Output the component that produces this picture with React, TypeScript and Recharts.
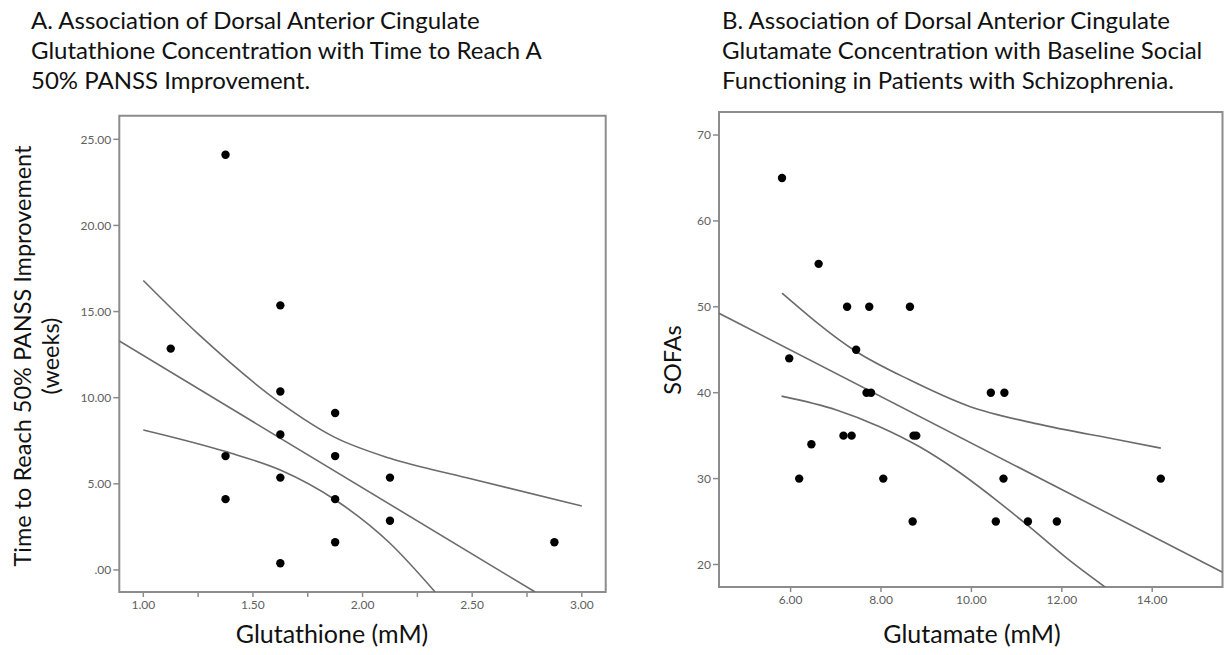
import React from "react";
import {
  ComposedChart,
  Scatter,
  Line,
  XAxis,
  YAxis,
  ReferenceArea,
} from "recharts";

// Panel A: glutathione (mM) vs weeks to 50% PANSS improvement
const glutathione = [1.375, 1.125, 1.625, 1.625, 1.875, 1.625, 1.375, 1.875, 1.625, 2.125, 1.375, 1.875, 2.125, 1.875, 2.875, 1.625];
const weeksToImprove = [24.1, 12.85, 15.36, 10.36, 9.11, 7.86, 6.61, 6.61, 5.36, 5.36, 4.11, 4.11, 2.86, 1.61, 1.61, 0.39];

const fitAX = [0.8905, 2.787];
const fitAY = [13.29, -1.28];
const upperAX = [1.0, 1.25, 1.625, 1.867, 2.125, 2.475, 3.0];
const upperAY = [16.8, 13.7, 9.7, 7.74, 6.48, 5.35, 3.71];
const lowerAX = [1.0, 1.376, 1.625, 1.876, 2.125, 2.331];
const lowerAY = [8.13, 6.87, 5.8, 4.06, 1.55, -1.28];

// Panel B: glutamate (mM) vs SOFAS
const glutamate = [5.81, 6.62, 7.25, 7.74, 8.64, 7.45, 5.97, 7.68, 7.78, 10.43, 10.73, 7.17, 7.35, 8.72, 8.78, 6.46, 6.19, 8.05, 10.71, 14.19, 8.7, 10.54, 11.25, 11.89];
const sofas = [65, 55, 50, 50, 50, 45, 44, 40, 40, 40, 40, 35, 35, 35, 35, 34, 30, 30, 30, 30, 25, 25, 25, 25];

const fitBX = [4.416, 15.555];
const fitBY = [49.25, 19.1];
const upperBX = [5.81, 7.45, 8.63, 9.96, 11.43, 13.27, 14.19];
const upperBY = [51.6, 44.8, 41.5, 38.4, 36.4, 34.5, 33.55];
const lowerBX = [5.8, 7.015, 7.97, 8.854, 9.66, 10.55, 11.28, 12.165, 12.976];
const lowerBY = [39.6, 37.99, 36.04, 33.7, 31.0, 27.5, 24.4, 20.5, 17.3];

const xTicksA = [1, 1.25, 1.5, 1.75, 2, 2.25, 2.5, 2.75, 3];
const yTicksA = [0, 5, 10, 15, 20, 25];
const xTicksB = [6, 8, 10, 12, 14];
const yTicksB = [20, 30, 40, 50, 60, 70];

const zip = (xs: number[], ys: number[]) => xs.map((x, i) => ({ x, y: ys[i] }));

const FONT = "Lato, 'Open Sans', sans-serif";
const LINE = "#6b6b6b";
const FRAME = "#8c8c8c";
const tickStyle = { fontSize: 12, fill: "#5e5e5e", fontFamily: FONT };

const Dot = (props: any) => <circle cx={props.cx} cy={props.cy} r={4.2} fill="#000" />;

function Panel(props: {
  width: number;
  margin: any;
  xDomain: number[];
  yDomain: number[];
  xTicks: number[];
  yTicks: number[];
  xFmt: (v: number) => string;
  yFmt: (v: number) => string;
  points: { x: number; y: number }[];
  fit: { x: number; y: number }[];
  upper: { x: number; y: number }[];
  lower: { x: number; y: number }[];
}) {
  return (
    <ComposedChart width={props.width} height={655} margin={props.margin}>
      <XAxis
        type="number"
        dataKey="x"
        domain={props.xDomain}
        ticks={props.xTicks}
        tickFormatter={props.xFmt}
        allowDataOverflow
        axisLine={false}
        tickSize={5}
        tickMargin={3}
        tickLine={{ stroke: FRAME, strokeWidth: 1.5 }}
        tick={tickStyle}
        height={30}
        interval={0}
      />
      <YAxis
        type="number"
        dataKey="y"
        domain={props.yDomain}
        ticks={props.yTicks}
        tickFormatter={props.yFmt}
        allowDataOverflow
        axisLine={false}
        tickSize={6}
        tickMargin={2}
        tickLine={{ stroke: FRAME, strokeWidth: 1.5 }}
        tick={tickStyle}
        width={40}
        interval={0}
      />
      <ReferenceArea
        x1={props.xDomain[0]}
        x2={props.xDomain[1]}
        y1={props.yDomain[0]}
        y2={props.yDomain[1]}
        fill="none"
        stroke={FRAME}
        strokeWidth={2}
        fillOpacity={0}
      />
      <Line data={props.fit} dataKey="y" type="linear" stroke={LINE} strokeWidth={1.6} dot={false} isAnimationActive={false} />
      <Line data={props.upper} dataKey="y" type="monotone" stroke={LINE} strokeWidth={1.6} dot={false} isAnimationActive={false} />
      <Line data={props.lower} dataKey="y" type="monotone" stroke={LINE} strokeWidth={1.6} dot={false} isAnimationActive={false} />
      <Scatter data={props.points} dataKey="y" shape={Dot} isAnimationActive={false} />
    </ComposedChart>
  );
}

const titleStyle: React.CSSProperties = {
  position: "absolute",
  fontFamily: FONT,
  fontSize: 24,
  lineHeight: "30px",
  color: "#111",
  whiteSpace: "nowrap",
};

const axisTitle: React.CSSProperties = {
  position: "absolute",
  fontFamily: FONT,
  fontSize: 23.5,
  color: "#111",
  whiteSpace: "nowrap",
  lineHeight: "28px",
};

export default function App() {
  return (
    <div style={{ position: "absolute", left: 0, top: 0, width: 1226, height: 655, background: "#fff", overflow: "hidden" }}>
      <div style={{ ...titleStyle, left: 31, top: 5 }}>
        A. Association of Dorsal Anterior Cingulate
        <br />
        Glutathione Concentration with Time to Reach A
        <br />
        50% PANSS Improvement.
      </div>
      <div style={{ ...titleStyle, left: 722, top: 5 }}>
        B. Association of Dorsal Anterior Cingulate
        <br />
        Glutamate Concentration with Baseline Social
        <br />
        Functioning in Patients with Schizophrenia.
      </div>

      <div style={{ position: "absolute", left: 0, top: 0 }}>
        <Panel
          width={620}
          margin={{ top: 115.7, right: 14.3, bottom: 33, left: 79.3 }}
          xDomain={[0.8905, 3.109]}
          yDomain={[-1.28, 26.37]}
          xTicks={xTicksA}
          yTicks={yTicksA}
          xFmt={(v) => ((v * 2) % 1 === 0 ? v.toFixed(2) : "")}
          yFmt={(v) => (v === 0 ? ".00" : v.toFixed(2))}
          points={zip(glutathione, weeksToImprove)}
          fit={zip(fitAX, fitAY)}
          upper={zip(upperAX, upperAY)}
          lower={zip(lowerAX, lowerAY)}
        />
      </div>
      <div style={{ position: "absolute", left: 620, top: 0 }}>
        <Panel
          width={606}
          margin={{ top: 112, right: 3.5, bottom: 38, left: 59 }}
          xDomain={[4.416, 15.555]}
          yDomain={[17.38, 72.68]}
          xTicks={xTicksB}
          yTicks={yTicksB}
          xFmt={(v) => v.toFixed(2)}
          yFmt={(v) => String(v)}
          points={zip(glutamate, sofas)}
          fit={zip(fitBX, fitBY)}
          upper={zip(upperBX, upperBY)}
          lower={zip(lowerBX, lowerBY)}
        />
      </div>

      {/* axis titles */}
      <div style={{ ...axisTitle, left: 36, top: 356, transform: "translate(-50%, -50%) rotate(-90deg)", textAlign: "center" }}>
        Time to Reach 50% PANSS Improvement
        <br />
        (weeks)
      </div>
      <div style={{ ...axisTitle, left: 672, top: 360, transform: "translate(-50%, -50%) rotate(-90deg)" }}>SOFAs</div>
      <div style={{ ...axisTitle, fontSize: 25, left: 332, top: 633, transform: "translate(-50%, -50%)" }}>Glutathione (mM)</div>
      <div style={{ ...axisTitle, fontSize: 25, left: 972, top: 633, transform: "translate(-50%, -50%)" }}>Glutamate (mM)</div>
    </div>
  );
}
